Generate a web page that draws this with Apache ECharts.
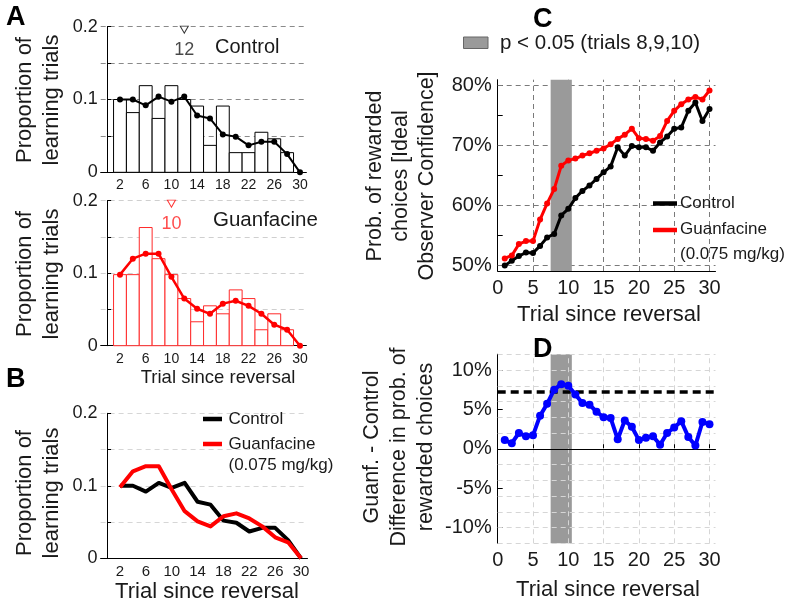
<!DOCTYPE html>
<html><head><meta charset="utf-8">
<script src="https://cdn.jsdelivr.net/npm/echarts@6/dist/echarts.min.js"></script>
<style>html,body{margin:0;padding:0;background:#fff}#c{width:787px;height:604px}</style>
</head><body><div id="c"></div><script>
// ---------- DATA ----------
const histTrials = [2,4,6,8,10,12,14,16,18,20,22,24,26,28];
const controlBars = [0.100,0.082,0.119,0.074,0.119,0.100,0.091,0.037,0.091,0.027,0.027,0.055,0.046,0.027];
const guanfBars   = [0.098,0.098,0.163,0.120,0.098,0.065,0.033,0.055,0.044,0.077,0.065,0.022,0.044,0.022];
const lineTrials  = [2,4,6,8,10,12,14,16,18,20,22,24,26,28,30];
const controlProp = [0.100,0.100,0.092,0.104,0.097,0.104,0.078,0.074,0.052,0.049,0.037,0.042,0.042,0.025,0];
const guanfProp   = [0.098,0.120,0.127,0.127,0.095,0.065,0.051,0.044,0.058,0.062,0.055,0.044,0.029,0.022,0];
const histTickLabels = [2,6,10,14,18,22,26,30];
const controlMedian = 12, guanfMedian = 10;

const trials = [1,2,3,4,5,6,7,8,9,10,11,12,13,14,15,16,17,18,19,20,21,22,23,24,25,26,27,28,29,30];
const controlConf = [49.9,50.7,51.5,52.1,52.0,53.2,54.6,55.2,58.3,59.4,61.2,62.4,63.3,64.4,65.5,66.5,69.7,68.3,69.9,69.7,69.7,69.1,70.5,71.5,72.8,73.0,75.8,77.2,74.1,76.1];
const guanfConf   = [51.1,51.6,53.5,54.0,54.0,57.6,60.3,62.7,66.6,67.5,67.8,68.3,68.7,69.1,69.5,70.2,71.1,71.8,72.8,71.2,71.1,70.8,71.6,74.1,75.8,76.9,77.7,78.1,77.7,79.2];
const diffConf    = [1.1,0.7,2.0,1.6,1.7,4.2,5.7,7.5,8.2,8.0,6.9,5.8,5.6,4.7,4.0,3.9,1.2,3.6,2.8,1.1,1.4,1.6,0.5,2.0,2.7,3.5,1.5,0.4,3.4,3.1];
const trialTicks = [0,5,10,15,20,25,30];
const confLabels = [50,60,70,80];
const confTicks = [50,55,60,65,70,75,80];
const diffLabels = [-10,-5,0,5,10];
const diffGrid = [-12,-10,-8,-6,-4,-2,2,4,6,8,10,12];
const sigBand = [7.5,10.5];
const diffThreshold = 7.2;

// ---------- CHART ----------
const FF = 'Liberation Sans, Arial, Helvetica, sans-serif';
const TXT = '#1a1a1a';
const chart = echarts.init(document.getElementById('c'), null, {renderer:'canvas'});

function pairs(xs, ys){ return xs.map((x,i)=>[x, ys[i]]); }
function barRender(color){
  return function(params, api){
    const x = api.value(0), h = api.value(1);
    const p0 = api.coord([x-1, h]);
    const p1 = api.coord([x+1, 0]);
    return {type:'rect', shape:{x:p0[0], y:p0[1], width:p1[0]-p0[0], height:p1[1]-p0[1]},
      style:{fill:'#fff', stroke:color, lineWidth:1}};
  };
}
function bandRender(params, api){
  const cs = params.coordSys;
  const a = api.coord([api.value(0), 0]);
  const b = api.coord([api.value(1), 0]);
  return {type:'rect', shape:{x:a[0], y:cs.y, width:b[0]-a[0], height:cs.height}, style:{fill:'#9a9a9a'}};
}
function histX(gi){
  return {gridIndex:gi, type:'value', min:-1, max:31,
    axisLine:{lineStyle:{color:'#000', width:1}}, axisTick:{show:false},
    splitLine:{show:false},
    axisLabel:{customValues:histTickLabels, fontSize:gi===2?15:14, color:TXT, fontFamily:FF, margin:6}};
}
function propY(gi, gridColor){
  return {gridIndex:gi, type:'value', min:0, max:0.2, interval:0.05,
    axisLine:{show:true, lineStyle:{color:'#000', width:1}},
    axisTick:{show:true, inside:true, length:4, lineStyle:{color:'#000'}},
    axisLabel:{fontSize:18, color:TXT, fontFamily:FF, margin:3,
      formatter:v=>{const r=Math.round(v*100); if(r%10) return ''; return r===0?'0':(r/100).toFixed(1);}},
    splitLine:{show:true, lineStyle:{type:[5,4], color:gridColor, width:1}}};
}
function trialX(gi, dashedLine){
  return {gridIndex:gi, type:'value', min:0, max:30.85,
    axisLine:{lineStyle:{color:dashedLine?'#333':'#000', width:1, type:dashedLine?[5,4]:'solid'}},
    axisTick:{customValues:trialTicks, inside:true, length:5, lineStyle:{color:'#000'}},
    axisLabel:{customValues:trialTicks, fontSize:20, color:TXT, fontFamily:FF, margin:7},
    splitLine:{show:false}};
}
const noLabel = {show:false};
function ml(z, extra){ return Object.assign({symbol:['none','none'], silent:true, animation:false, label:noLabel, z:z}, extra); }

const option = {
  animation:false,
  backgroundColor:'#fff',
  textStyle:{fontFamily:FF},
  grid:[
    {left:100.7, top:26.7, width:205.7, height:145.6},
    {left:100.7, top:200.7, width:205.7, height:145},
    {left:100.6, top:413.3, width:206.9, height:145},
    {left:497.7, top:79.7, width:217.8, height:191.3},
    {left:497.7, top:354.25, width:217.8, height:189}
  ],
  xAxis:[histX(0), histX(1), histX(2), trialX(3,false), trialX(4,true)],
  yAxis:[
    propY(0,'#8a8a8a'), propY(1,'#cfcfcf'), propY(2,'#d6d6d6'),
    {gridIndex:3, type:'value', min:49, max:81,
      axisLine:{show:true, lineStyle:{color:'#000'}},
      axisTick:{customValues:confTicks, inside:true, length:5, lineStyle:{color:'#000'}},
      axisLabel:{customValues:confLabels, formatter:v=>v+'%', fontSize:20, color:TXT, fontFamily:FF, margin:6},
      splitLine:{show:false}},
    {gridIndex:4, type:'value', min:-12, max:12,
      axisLine:{show:true, lineStyle:{color:'#000'}},
      axisTick:{customValues:diffLabels, inside:true, length:5, lineStyle:{color:'#000'}},
      axisLabel:{customValues:diffLabels, formatter:v=>v+'%', fontSize:20, color:TXT, fontFamily:FF, margin:6},
      splitLine:{show:false}}
  ],
  series:[
    // A top
    {type:'custom', xAxisIndex:0, yAxisIndex:0, renderItem:barRender('#000'), data:pairs(histTrials, controlBars), z:2},
    {type:'line', xAxisIndex:0, yAxisIndex:0, data:pairs(lineTrials, controlProp), color:'#000',
      lineStyle:{width:2, color:'#000'}, symbol:'circle', symbolSize:6, itemStyle:{color:'#000'}, z:3},
    {type:'scatter', xAxisIndex:0, yAxisIndex:0, data:[[controlMedian, 0.196]], symbol:'triangle', symbolRotate:180,
      symbolSize:[8,7], itemStyle:{color:'#fff', borderColor:'#000', borderWidth:1},
      label:{show:true, position:'bottom', distance:7, formatter:String(controlMedian), fontSize:18, color:TXT, fontFamily:FF}, z:4},
    // A bottom
    {type:'custom', xAxisIndex:1, yAxisIndex:1, renderItem:barRender('#ff2a2a'), data:pairs(histTrials, guanfBars), z:2},
    {type:'line', xAxisIndex:1, yAxisIndex:1, data:pairs(lineTrials, guanfProp), color:'#ff0000',
      lineStyle:{width:2.5, color:'#ff0000'}, symbol:'circle', symbolSize:6, itemStyle:{color:'#ff0000'}, z:3},
    {type:'scatter', xAxisIndex:1, yAxisIndex:1, data:[[guanfMedian, 0.196]], symbol:'triangle', symbolRotate:180,
      symbolSize:[8,7], itemStyle:{color:'#fff', borderColor:'#ff0000', borderWidth:1},
      label:{show:true, position:'bottom', distance:7, formatter:String(guanfMedian), fontSize:18, color:'#ff2020', fontFamily:FF}, z:4},
    // B
    {type:'line', xAxisIndex:2, yAxisIndex:2, data:pairs(lineTrials, controlProp), color:'#000',
      lineStyle:{width:4, color:'#000', join:'round'}, symbol:'none', z:3},
    {type:'line', xAxisIndex:2, yAxisIndex:2, data:pairs(lineTrials, guanfProp), color:'#ff0000',
      lineStyle:{width:4, color:'#ff0000', join:'round'}, symbol:'none', z:4},
    // C grid + band
    {type:'line', xAxisIndex:3, yAxisIndex:3, data:[], z:1,
      markLine:ml(1, {lineStyle:{type:[5,4], color:'#7a7a7a', width:1},
        data:trialTicks.filter(v=>v>0).map(v=>({xAxis:v})).concat(confLabels.map(v=>({yAxis:v})))}),
      markArea:{silent:true, z:2, itemStyle:{color:'#9a9a9a'}, label:noLabel, data:[[{xAxis:sigBand[0]},{xAxis:sigBand[1]}]]}},
    {type:'line', xAxisIndex:3, yAxisIndex:3, data:pairs(trials, controlConf), color:'#000',
      lineStyle:{width:3, color:'#000'}, symbol:'circle', symbolSize:6, itemStyle:{color:'#000'}, z:10},
    {type:'line', xAxisIndex:3, yAxisIndex:3, data:pairs(trials, guanfConf), color:'#ff0000',
      lineStyle:{width:3, color:'#ff0000'}, symbol:'circle', symbolSize:6, itemStyle:{color:'#ff0000'}, z:11},
    // D band (custom, below grid)
    {type:'custom', xAxisIndex:4, yAxisIndex:4, renderItem:bandRender, data:[sigBand], z:1, silent:true},
    // D grid
    {type:'line', xAxisIndex:4, yAxisIndex:4, data:[], z:3,
      markLine:ml(3, {lineStyle:{type:[5,4], color:'#d6d6d6', width:1},
        data:trialTicks.filter(v=>v>0).map(v=>({xAxis:v})).concat(diffGrid.map(v=>({yAxis:v})))})},
    // D zero + threshold
    {type:'line', xAxisIndex:4, yAxisIndex:4, data:[], z:4,
      markLine:ml(4, {data:[
        {yAxis:0, lineStyle:{type:'solid', color:'#000', width:1}},
        {yAxis:diffThreshold, lineStyle:{type:[8,5], color:'#000', width:3.5}}
      ]})},
    {type:'line', xAxisIndex:4, yAxisIndex:4, data:pairs(trials, diffConf), color:'#0000ff',
      lineStyle:{width:4, color:'#0000ff'}, symbol:'circle', symbolSize:8, itemStyle:{color:'#0000ff'}, z:10}
  ],
  graphic:[]
};

function txt(x, y, text, size, opts){
  opts = opts || {};
  return {type:'text', x:x, y:y, rotation:opts.rot||0, silent:true, z:100,
    style:{text:text, fill:opts.color||TXT, font:(opts.bold?'bold ':'')+size+'px '+FF,
      align:opts.align||'left', textAlign:opts.align||'left',
      verticalAlign:'middle', textVerticalAlign:'middle', lineHeight:opts.lh||Math.round(size*1.2)}};
}
function seg(x1,y1,x2,y2,color,w){
  return {type:'line', silent:true, z:100, shape:{x1:x1,y1:y1,x2:x2,y2:y2}, style:{stroke:color, lineWidth:w}};
}
const R = Math.PI/2;
option.graphic = [
  txt(6, 18, 'A', 27, {bold:true, color:'#000'}),
  txt(6, 380, 'B', 27, {bold:true, color:'#000'}),
  txt(533, 20, 'C', 27, {bold:true, color:'#000'}),
  txt(533, 350, 'D', 27, {bold:true, color:'#000'}),
  txt(38.5, 100, 'Proportion of\nlearning trials', 22, {rot:R, align:'center', lh:27}),
  txt(38.5, 274, 'Proportion of\nlearning trials', 22, {rot:R, align:'center', lh:27}),
  txt(38.5, 493, 'Proportion of\nlearning trials', 22, {rot:R, align:'center', lh:27}),
  txt(401, 176, 'Prob. of rewarded\nchoices [Ideal\nObserver Confidence]', 21.5, {rot:R, align:'center', lh:26}),
  txt(399, 447, 'Guanf. - Control\nDifference in prob. of\nrewarded choices', 21.5, {rot:R, align:'center', lh:27}),
  txt(215, 47, 'Control', 20, {}),
  txt(213, 220, 'Guanfacine', 20.5, {}),
  txt(218, 378, 'Trial since reversal', 18.5, {align:'center'}),
  txt(207, 592, 'Trial since reversal', 22, {align:'center'}),
  txt(609, 315, 'Trial since reversal', 22, {align:'center'}),
  txt(608, 590, 'Trial since reversal', 22, {align:'center'}),
  // top legend
  {type:'rect', silent:true, z:100, shape:{x:463.5, y:37, width:24.5, height:11.5}, style:{fill:'#9a9a9a', stroke:'#666', lineWidth:1}},
  txt(500, 43, 'p < 0.05 (trials 8,9,10)', 20.5, {}),
  // C legend
  seg(653, 203.5, 677, 203.5, '#000', 4.5),
  txt(680, 203.5, 'Control', 17, {}),
  seg(653, 230, 677, 230, '#ff0000', 4.5),
  txt(680, 229.5, 'Guanfacine', 17, {}),
  txt(680, 254, '(0.075 mg/kg)', 17, {}),
  // B legend
  seg(203, 419, 222, 419, '#000', 4.5),
  txt(228.5, 419, 'Control', 17, {}),
  seg(203, 444, 222, 444, '#ff0000', 4.5),
  txt(228.5, 444, 'Guanfacine', 17, {}),
  txt(228.5, 465, '(0.075 mg/kg)', 17, {})
];
chart.setOption(option);
</script></body></html>
